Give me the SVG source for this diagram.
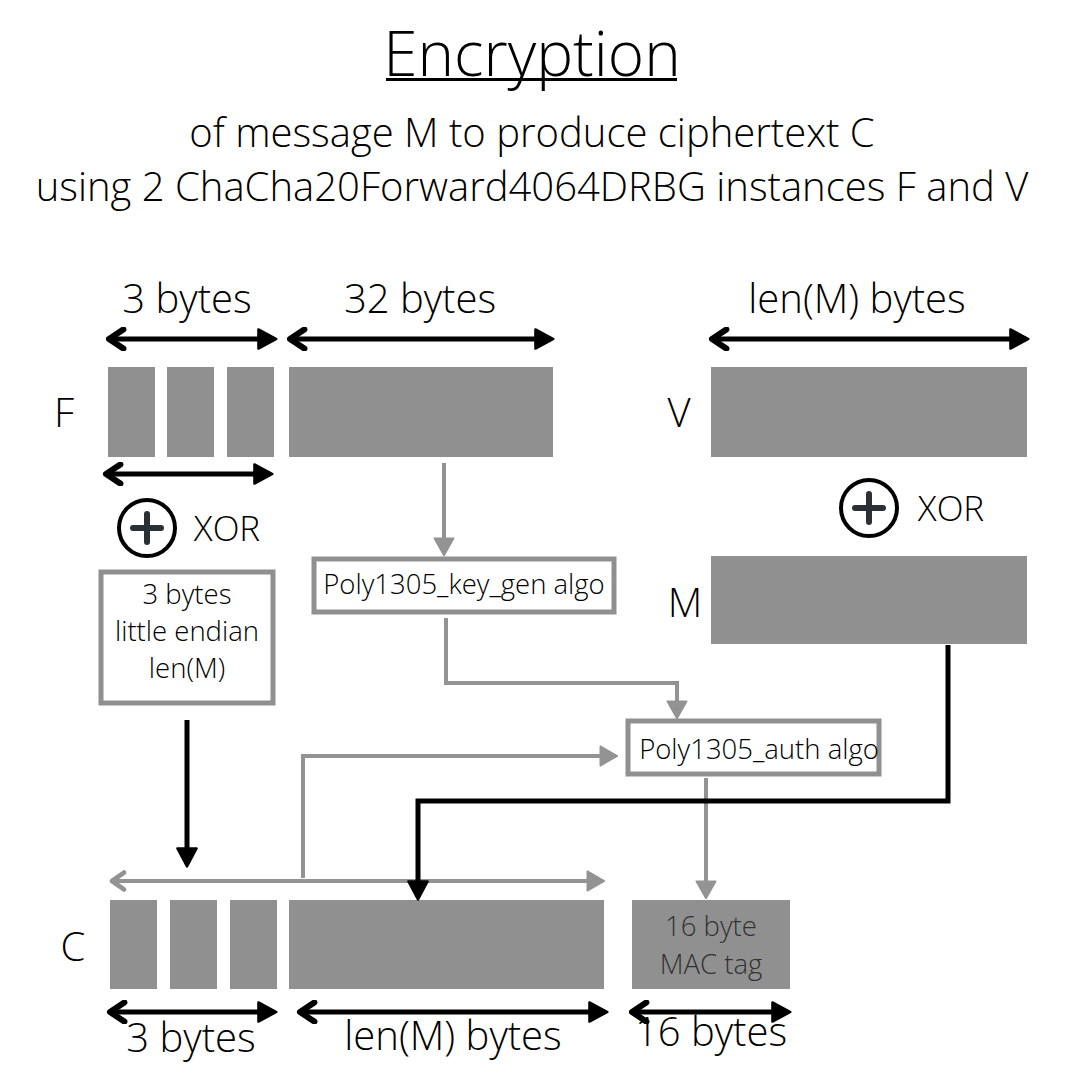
<svg xmlns="http://www.w3.org/2000/svg" width="1080" height="1080" viewBox="0 0 1080 1080">
<defs>
<style>
text{font-family:"Open Sans","Noto Sans","Liberation Sans",sans-serif;font-weight:300;fill:#000}
.blk{fill:#909090}
.box{fill:#fff;stroke:#909090;stroke-width:5}
.bl{stroke:#000;stroke-width:5;fill:none}
.gl{stroke:#939393;stroke-width:4;fill:none}
.lab{font-size:40px;text-anchor:middle}
.big{font-size:40px;text-anchor:middle}
.sub{font-size:40px;text-anchor:middle}
.sm{font-size:27.5px;text-anchor:middle}
.xor{font-size:35px;text-anchor:middle}
</style>
<marker id="bTri" markerUnits="userSpaceOnUse" markerWidth="24" markerHeight="24" viewBox="-14 -10 18 20" refX="0" refY="0" orient="auto">
<path d="M-13,-8 L2,0 L-13,8 Z" fill="#000" stroke="#000" stroke-width="2" stroke-linejoin="round"/>
</marker>
<marker id="bChev" markerUnits="userSpaceOnUse" markerWidth="24" markerHeight="24" viewBox="-4 -10 18 20" refX="0" refY="0" orient="auto">
<path d="M12,-8 L0,0 L12,8" fill="none" stroke="#000" stroke-width="5" stroke-linecap="round" stroke-linejoin="round"/>
</marker>
<marker id="gTri" markerUnits="userSpaceOnUse" markerWidth="24" markerHeight="24" viewBox="-14 -10 18 20" refX="0" refY="0" orient="auto">
<path d="M-13,-8 L1,0 L-13,8 Z" fill="#939393" stroke="#939393" stroke-width="1.5" stroke-linejoin="round"/>
</marker>
<marker id="gChev" markerUnits="userSpaceOnUse" markerWidth="24" markerHeight="24" viewBox="-4 -10 18 20" refX="0" refY="0" orient="auto">
<path d="M10,-7 L0,0 L10,7" fill="none" stroke="#939393" stroke-width="4" stroke-linecap="round" stroke-linejoin="round"/>
</marker>
<g id="xorSym">
<circle cx="0" cy="0" r="28" fill="none" stroke="#000" stroke-width="4"/>
<path d="M-14,0 H14 M0,-14 V14" stroke="#2b3036" stroke-width="6" stroke-linecap="round"/>
</g>
</defs>
<rect width="1080" height="1080" fill="#fff"/>

<g id="title">
<text x="532" y="76" style="font-size:62px;text-anchor:middle">Encryption</text>
<rect x="386" y="78" width="291" height="3" fill="#000"/>
<text x="532" y="147" class="sub">of message M to produce ciphertext C</text>
<text x="532" y="201" class="sub">using 2 ChaCha20Forward4064DRBG instances F and V</text>
</g>

<g id="top-labels">
<text x="187" y="313" class="lab">3 bytes</text>
<text x="420" y="313" class="lab">32 bytes</text>
<text x="857" y="313" class="lab">len(M) bytes</text>
</g>

<g id="F">
<text x="64" y="427" class="big">F</text>
<rect class="blk" x="108" y="367" width="47" height="90"/>
<rect class="blk" x="167" y="367" width="47" height="90"/>
<rect class="blk" x="227" y="367" width="47" height="90"/>
<rect class="blk" x="289" y="367" width="264" height="90"/>
</g>

<g id="V">
<text x="679" y="427" class="big">V</text>
<rect class="blk" x="711" y="367" width="316" height="90"/>
</g>

<g id="xor-left">
<use href="#xorSym" x="147" y="528"/>
<text x="227" y="541" class="xor">XOR</text>
</g>

<g id="xor-right">
<use href="#xorSym" x="869" y="508"/>
<text x="951" y="521" class="xor">XOR</text>
</g>

<g id="M">
<text x="685" y="617" class="big">M</text>
<rect class="blk" x="711" y="556" width="316" height="88"/>
</g>

<g id="len-box">
<rect class="box" x="101" y="572" width="172" height="131"/>
<text x="187" y="604" class="sm">3 bytes</text>
<text x="187" y="641" class="sm">little endian</text>
<text x="187" y="678" class="sm">len(M)</text>
</g>

<g id="keygen">
<rect class="box" x="314" y="559" width="300" height="53"/>
<text x="464" y="594" class="sm">Poly1305_key_gen algo</text>
</g>

<g id="auth">
<rect class="box" x="628" y="721" width="251" height="53"/>
<text x="759" y="759" class="sm">Poly1305_auth algo</text>
</g>

<g id="C">
<text x="73" y="961" class="big">C</text>
<rect class="blk" x="110" y="900" width="47" height="89"/>
<rect class="blk" x="170" y="900" width="47" height="89"/>
<rect class="blk" x="230" y="900" width="47" height="89"/>
<rect class="blk" x="289" y="900" width="315" height="89"/>
</g>

<g id="mac">
<rect class="blk" x="632" y="900" width="158" height="89"/>
<text x="711" y="936" class="sm" style="fill:#333">16 byte</text>
<text x="711" y="974" class="sm" style="fill:#333">MAC tag</text>
</g>

<g id="bottom-labels">
<text x="191" y="1052" class="lab">3 bytes</text>
<text x="453" y="1050" class="lab">len(M) bytes</text>
<text x="711" y="1046" class="lab">16 bytes</text>
</g>

<g id="connectors">
<line class="bl" x1="109" y1="339" x2="274" y2="339" marker-start="url(#bChev)" marker-end="url(#bTri)"/>
<line class="bl" x1="290" y1="339" x2="551" y2="339" marker-start="url(#bChev)" marker-end="url(#bTri)"/>
<line class="bl" x1="712" y1="339" x2="1026" y2="339" marker-start="url(#bChev)" marker-end="url(#bTri)"/>
<line class="bl" x1="106" y1="474" x2="270" y2="474" marker-start="url(#bChev)" marker-end="url(#bTri)"/>
<line class="bl" x1="187" y1="720" x2="187" y2="864" marker-end="url(#bTri)"/>
<line class="gl" x1="444" y1="463" x2="444" y2="554" marker-end="url(#gTri)"/>
<polyline class="gl" points="446,618 446,683 677,683 677,717" marker-end="url(#gTri)"/>
<polyline class="gl" points="303,878 303,756 616,756" marker-end="url(#gTri)"/>
<line class="gl" x1="112" y1="881" x2="603" y2="881" marker-start="url(#gChev)" marker-end="url(#gTri)"/>
<line class="gl" x1="706" y1="778" x2="706" y2="897" marker-end="url(#gTri)"/>
<polyline class="bl" points="948,645 948,801 418,801 418,897" marker-end="url(#bTri)"/>
<line class="bl" x1="110" y1="1012" x2="274" y2="1012" marker-start="url(#bChev)" marker-end="url(#bTri)"/>
<line class="bl" x1="300" y1="1012" x2="605" y2="1012" marker-start="url(#bChev)" marker-end="url(#bTri)"/>
<line class="bl" x1="632" y1="1012" x2="788" y2="1012" marker-start="url(#bChev)" marker-end="url(#bTri)"/>
</g>
</svg>
